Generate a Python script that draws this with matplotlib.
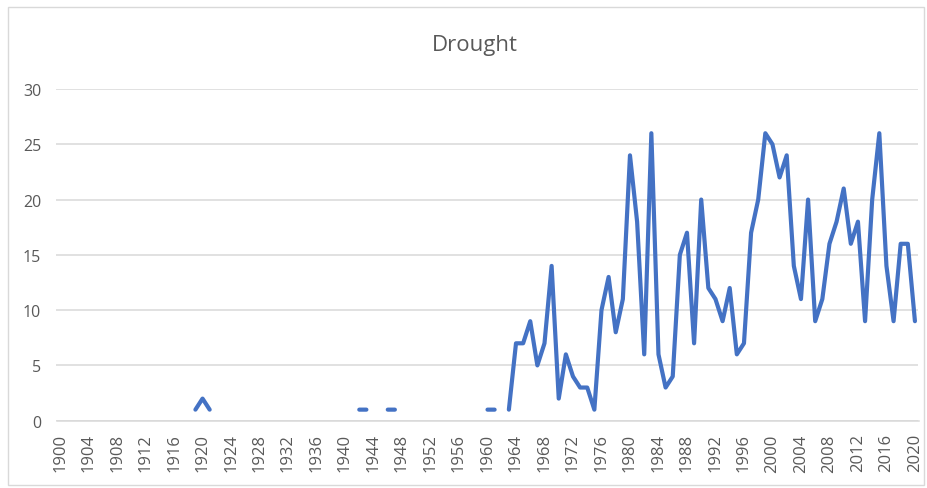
import numpy as np
import pandas as pd
import matplotlib
matplotlib.use("Agg")
import matplotlib.pyplot as plt
from matplotlib.patches import Rectangle

# Drought events per year (years not listed have no record)
years = [1919, 1920, 1921,
         1942, 1943,
         1946, 1947,
         1960, 1961,
         1963, 1964, 1965, 1966, 1967, 1968, 1969, 1970, 1971, 1972,
         1973, 1974, 1975, 1976, 1977, 1978, 1979, 1980, 1981, 1982,
         1983, 1984, 1985, 1986, 1987, 1988, 1989, 1990, 1991, 1992,
         1993, 1994, 1995, 1996, 1997, 1998, 1999, 2000, 2001, 2002,
         2003, 2004, 2005, 2006, 2007, 2008, 2009, 2010, 2011, 2012,
         2013, 2014, 2015, 2016, 2017, 2018, 2019, 2020]
events = [1, 2, 1,
          1, 1,
          1, 1,
          1, 1,
          1, 7, 7, 9, 5, 7, 14, 2, 6, 4,
          3, 3, 1, 10, 13, 8, 11, 24, 18, 6,
          26, 6, 3, 4, 15, 17, 7, 20, 12, 11,
          9, 12, 6, 7, 17, 20, 26, 25, 22, 24,
          14, 11, 20, 9, 11, 16, 18, 21, 16, 18,
          9, 20, 26, 14, 9, 16, 16, 9]

first_year, last_year = 1900, 2020
tick_years = list(range(first_year, last_year + 1, 4))
y_ticks = [0, 5, 10, 15, 20, 25, 30]
title = "Drought"

# Full yearly index so missing years break the line
series = pd.Series(events, index=years, dtype=float).reindex(
    range(first_year, last_year + 1))

plt.rcParams['font.family'] = ['Open Sans', 'DejaVu Sans']
text_color = "#595959"
grid_color = "#d9d9d9"
line_color = "#4472C4"

fig = plt.figure(figsize=(9.28, 4.89), dpi=100)
fig.patch.set_facecolor("white")

# Chart-area border
fig.patches.append(Rectangle((8 / 928, 3 / 489), 916 / 928, 478 / 489,
                             transform=fig.transFigure, fill=False,
                             edgecolor=grid_color, linewidth=1.0))

ax = fig.add_axes([56.5 / 928, (489 - 421.7) / 489, 862 / 928, (421.7 - 90) / 489])
ax.plot(series.index, series.values, color=line_color, linewidth=3.0,
        solid_capstyle="round", solid_joinstyle="round")

ax.set_xlim(first_year - 0.5, last_year + 0.5)
ax.set_ylim(0, 30)
ax.set_yticks(y_ticks)
ax.set_xticks(tick_years)
ax.set_xticklabels([str(y) for y in tick_years], rotation=90)

ax.grid(axis="y", color=grid_color, linewidth=1.1)
ax.set_axisbelow(True)
for side in ("top", "right", "left"):
    ax.spines[side].set_visible(False)
ax.spines["bottom"].set_color(grid_color)
ax.spines["bottom"].set_linewidth(1.1)

ax.tick_params(axis="both", length=0, colors=text_color)
ax.tick_params(axis="y", pad=11, labelsize=11.5)
ax.tick_params(axis="x", pad=9, labelsize=12)

fig.text(475 / 928, (489 - 45) / 489, title, ha="center", va="center",
         fontsize=16, color=text_color)

fig.savefig("out.png", dpi=100, facecolor="white")
